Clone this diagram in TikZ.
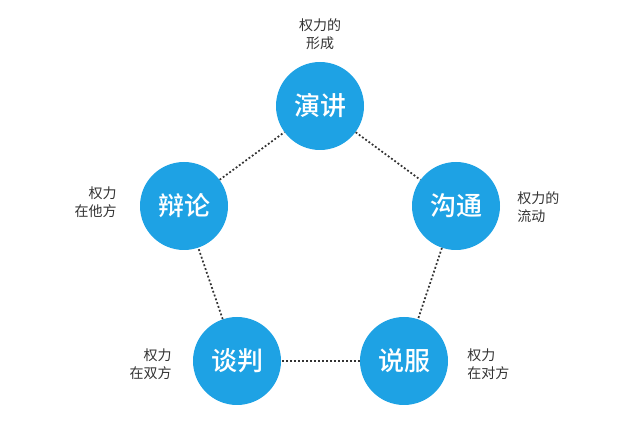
\documentclass[tikz,border=0pt]{standalone}
\usepackage{fontspec}
\usepackage{tikz}
\usetikzlibrary{positioning}
\usepackage{xcolor}
\newfontfamily\cjk{Noto Sans CJK SC}
\newfontfamily\cjkbold{Noto Sans CJK SC Medium}
\definecolor{powerblue}{RGB}{30,162,228}
\definecolor{notegray}{RGB}{51,51,51}

\begin{document}
\begin{tikzpicture}[x=0.75pt, y=-0.75pt,
        skill/.style={circle, fill=powerblue, minimum size=66pt, inner sep=0pt,
            text=white, font=\cjkbold\fontsize{19.5}{19.5}\selectfont},
        note/.style={text=notegray, font=\cjk\fontsize{10.5}{13.5}\selectfont, inner sep=0pt},
        link/.style={draw=notegray, line width=1.3pt, dash pattern=on 1.4pt off 1.6pt}]
            \useasboundingbox (0,0) rectangle (640,427);
            \node[skill] (speech) at (320,106) {演讲};
            \node[skill] (talk) at (456,206) {沟通};
            \node[skill] (persuade) at (404,361) {说服};
            \node[skill] (negotiate) at (237,361) {谈判};
            \node[skill] (debate) at (184,206) {辩论};
            \node[note, align=center] (speechnote) at (320,34) {权力的\\形成};
            \node[note, align=left, anchor=west] (talknote) at (517,207) {权力的\\流动};
            \node[note, align=left, anchor=west] (persuadenote) at (467,364) {权力\\在对方};
            \node[note, align=right, anchor=east] (negotiatenote) at (172,364) {权力\\在双方};
            \node[note, align=right, anchor=east] (debatenote) at (117,202) {权力\\在他方};
            \draw[link] (speech) -- (talk);
            \draw[link] (talk) -- (persuade);
            \draw[link] (persuade) -- (negotiate);
            \draw[link] (negotiate) -- (debate);
            \draw[link] (debate) -- (speech);
        \end{tikzpicture}
\end{document}
